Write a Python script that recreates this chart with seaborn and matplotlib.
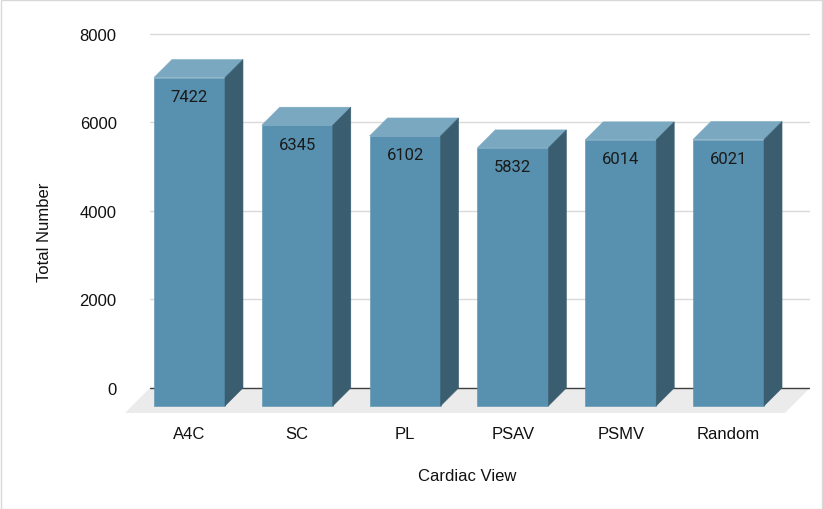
import numpy as np
import pandas as pd
import matplotlib
matplotlib.use("Agg")
import matplotlib.pyplot as plt
from matplotlib.patches import Polygon, Rectangle
import seaborn as sns

categories = ["A4C", "SC", "PL", "PSAV", "PSMV", "Random"]
values = [7422, 6345, 6102, 5832, 6014, 6021]
yticks = [0, 2000, 4000, 6000, 8000]

FRONT = "#5891AF"
TOP = "#7AA8C0"
SIDE = "#3A5E70"
FLOOR = "#EBEBEB"
GRID = "#D9D9D9"
AXIS = "#404040"

sns.set_theme(style="white")
plt.rcParams["font.family"] = ["Liberation Sans", "DejaVu Sans"]

W, H = 823, 510
fig = plt.figure(figsize=(W / 100, H / 100), dpi=100)
# plot area in pixels
px_l, px_r, px_t, px_b = 150, 810, 32.8, 415
ax = fig.add_axes([px_l / W, (H - px_b) / H, (px_r - px_l) / W, (px_b - px_t) / H])

xlim = (-0.533, 5.589)
ylim = (-590, 8050)
ax.set_xlim(*xlim)
ax.set_ylim(*ylim)

ppx = (px_r - px_l) / (xlim[1] - xlim[0])     # pixels per category unit
ppy = (px_b - px_t) / (ylim[1] - ylim[0])     # pixels per data unit

depth = 18   # bar depth px
fdepth = 25  # floor depth px
dx, dy = depth / ppx, depth / ppy
fdx, fdy = fdepth / ppx, fdepth / ppy

df = pd.DataFrame({"view": categories, "total": values})
sns.barplot(data=df, x="view", y="total", color=FRONT, saturation=1,
            width=0.659, ax=ax, zorder=3, linewidth=0)
ax.set_xlim(*xlim)
ax.set_ylim(*ylim)

# floor
floor = Polygon([(xlim[0], 0), (xlim[1], 0), (xlim[1] - fdx, -fdy), (xlim[0] - fdx, -fdy)],
                closed=True, facecolor=FLOOR, edgecolor="none", zorder=0.5, clip_on=False)
ax.add_patch(floor)
ax.axhline(0, color=AXIS, lw=1.0, zorder=1)

# 3D faces from seaborn's bars
for p in list(ax.patches):
    if not isinstance(p, Rectangle) or p.get_height() <= 0:
        continue
    x0, w, h = p.get_x(), p.get_width(), p.get_height()
    x1 = x0 + w
    p.set_x(x0 - dx)
    p.set_y(-dy)
    p.set_edgecolor(FRONT)
    p.set_linewidth(0.4)
    top = Polygon([(x0 - dx, h - dy), (x1 - dx, h - dy), (x1, h), (x0, h)],
                  closed=True, facecolor=TOP, edgecolor=TOP, lw=0.4, zorder=3)
    side = Polygon([(x1 - dx, -dy), (x1 - dx, h - dy), (x1, h), (x1, 0)],
                   closed=True, facecolor=SIDE, edgecolor=SIDE, lw=0.4, zorder=3)
    ax.add_patch(top)
    ax.add_patch(side)
    ax.annotate(f"{int(round(h))}", xy=(x0 - dx + w / 2, h - dy), xytext=(0, -13.7),
                textcoords="offset points", ha="center", va="center",
                fontsize=12, color="#1A1A1A", family=["Roboto", "DejaVu Sans"], zorder=5)

ax.set_yticks(yticks)
ax.set_yticklabels([str(t) for t in yticks])
ax.set_xticks(np.arange(len(categories)) - dx)
ax.set_xticklabels(categories)
ax.tick_params(axis="y", length=0, pad=24, labelsize=12, labelcolor="#111111")
ax.tick_params(axis="x", length=0, pad=9, labelsize=12, labelcolor="#111111")

for t in yticks:
    if t != 0:
        ax.axhline(t, color=GRID, lw=1.0, zorder=0.8)

for s in ax.spines.values():
    s.set_visible(False)
ax.grid(False)

ax.set_xlabel("Cardiac View", fontsize=12, color="#111111")
ax.set_ylabel("Total Number", fontsize=12, color="#111111")
ax.xaxis.set_label_coords((467 - px_l) / (px_r - px_l), (px_b - 469) / (px_b - px_t))
ax.yaxis.set_label_coords((52 - px_l) / (px_r - px_l), (px_b - 232) / (px_b - px_t))

fig.patches.append(Rectangle((0.5 / W, 0.5 / H), (W - 1.5) / W, (H - 1.5) / H,
                             transform=fig.transFigure, fill=False,
                             edgecolor=GRID, lw=1.0))

fig.savefig("out.png", dpi=100, facecolor="white")
